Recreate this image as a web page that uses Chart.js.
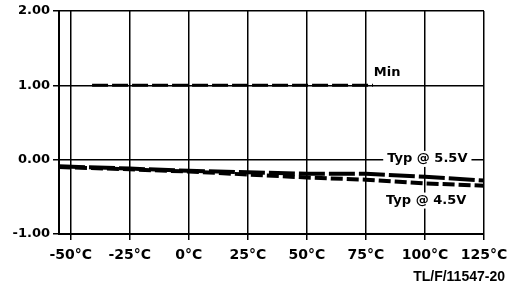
<!DOCTYPE html>
<html>
<head>
<meta charset="utf-8">
<script src="https://cdn.jsdelivr.net/npm/chart.js@4.4.0/dist/chart.umd.min.js"></script>
<style>
  body { margin: 0; background: #fff; }
  canvas { display: block; }
</style>
</head>
<body>
<canvas id="chart" width="507" height="287"></canvas>
<script>
// temperature points (°C) and the two typical curves
const temps = [-55, -25, 0, 25, 50, 75, 100, 125]
const typ55 = [-0.09, -0.12, -0.15, -0.17, -0.19, -0.19, -0.23, -0.28]
const typ45 = [-0.10, -0.13, -0.16, -0.20, -0.24, -0.27, -0.32, -0.35]

// the "Min" limit line
const minTemps = [-41, 78]
const minValues = [1.0, 1.0]

const xTicks = [-50, -25, 0, 25, 50, 75, 100, 125]
const yTicks = [-1, 0, 1, 2]

const toPoints = (xs, ys) => xs.map((t, i) => ({ x: t, y: ys[i] }))

// text labels on the plot + figure number
const notes = {
  id: "notes",
  afterDraw(chart) {
    const { ctx } = chart
    const { x, y } = chart.scales
    ctx.save()
    ctx.font = "bold 13px 'DejaVu Sans'"
    ctx.textAlign = "center"
    ctx.textBaseline = "middle"

    const put = (text, tx, ty, box) => {
      const px = x.getPixelForValue(tx)
      const py = y.getPixelForValue(ty)
      if (box) {
        const w = ctx.measureText(text).width + 8
        ctx.fillStyle = "#fff"
        ctx.fillRect(px - w / 2, py - 8, w, 16)
      }
      ctx.fillStyle = "#000"
      ctx.fillText(text, px, py)
    }

    put("Min", 84, 1.17, false)
    put("Typ @ 5.5V", 101, 0.01, true)
    put("Typ @ 4.5V", 100.5, -0.55, true)

    ctx.font = "bold 14px 'Liberation Sans'"
    ctx.textAlign = "right"
    ctx.fillText("TL/F/11547-20", 505, 277)
    ctx.restore()
  },
}

new Chart(document.getElementById("chart"), {
  type: "line",
  data: {
    datasets: [
      {
        label: "Min",
        data: toPoints(minTemps, minValues),
        borderColor: "#000",
        borderWidth: 3,
        borderDash: [16, 4],
        pointRadius: 0,
      },
      {
        label: "Typ @ 5.5V",
        data: toPoints(temps, typ55),
        borderColor: "#000",
        borderWidth: 4,
        borderDash: [26, 4],
        pointRadius: 0,
      },
      {
        label: "Typ @ 4.5V",
        data: toPoints(temps, typ45),
        borderColor: "#000",
        borderWidth: 4,
        borderDash: [12, 4],
        pointRadius: 0,
      },
    ],
  },
  options: {
    responsive: false,
    animation: false,
    devicePixelRatio: 1,
    layout: { padding: { top: 11, right: 23, left: 0, bottom: 0 } },
    plugins: {
      legend: { display: false },
      tooltip: { enabled: false },
    },
    scales: {
      x: {
        type: "linear",
        min: -55,
        max: 125,
        afterBuildTicks: (s) => {
          s.ticks = xTicks.map((v) => ({ value: v }))
        },
        afterFit: (s) => {
          s.height = 53
          s.paddingLeft = 0
          s.paddingRight = 0
        },
        grid: { color: "#000", lineWidth: 1.5, tickLength: 6, tickColor: "#000" },
        border: { color: "#000", width: 2 },
        ticks: {
          color: "#000",
          font: { family: "DejaVu Sans", size: 14, weight: "bold" },
          padding: 7,
          maxRotation: 0,
          callback: (v) => v + "°C",
        },
      },
      y: {
        min: -1,
        max: 2,
        afterBuildTicks: (s) => {
          s.ticks = yTicks.map((v) => ({ value: v }))
        },
        afterFit: (s) => {
          s.width = 59
          s.paddingTop = 0
          s.paddingBottom = 0
        },
        grid: { color: "#000", lineWidth: 1.5, tickLength: 6, tickColor: "#000" },
        border: { color: "#000", width: 2 },
        ticks: {
          color: "#000",
          font: { family: "DejaVu Sans", size: 13, weight: "bold" },
          padding: 3,
          callback: (v) => v.toFixed(2),
        },
      },
    },
  },
  plugins: [notes],
})
</script>
</body>
</html>
